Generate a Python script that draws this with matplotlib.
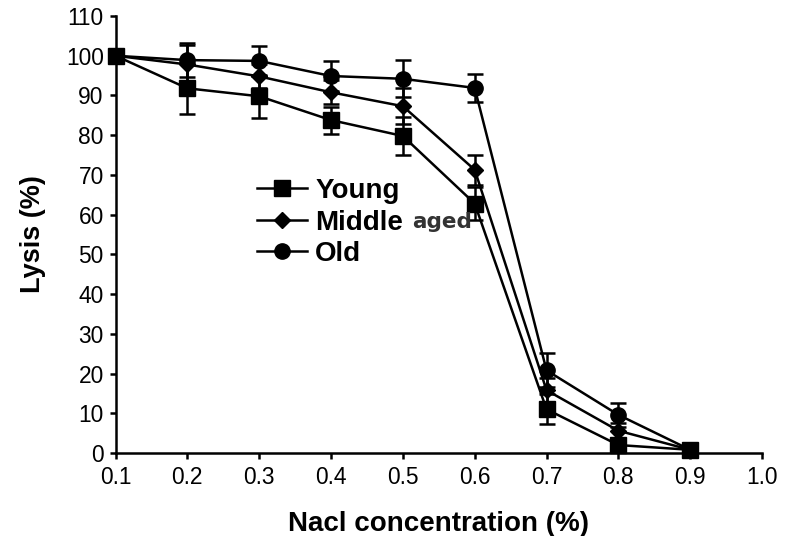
"""
Lysis (%) against NaCl concentration for three age groups, with error bars.
"""

import matplotlib
matplotlib.use('agg')
from matplotlib import pyplot as plt

plt.rcParams['font.family'] = ['Liberation Sans', 'DejaVu Sans']

# data
nacl = [0.1, 0.2, 0.3, 0.4, 0.5, 0.6, 0.7, 0.8, 0.9]

young = [100, 91.8, 89.8, 83.8, 79.8, 62.8, 11.0, 2.0, 0.8]
young_err = [0, 6.5, 5.4, 3.4, 4.7, 4.2, 3.8, 1.5, 0]

middle = [100, 97.8, 94.8, 90.8, 87.3, 71.3, 15.8, 5.6, 0.8]
middle_err = [0, 4.8, 3.0, 3.0, 4.5, 3.8, 3.0, 2.0, 0]

old = [100, 98.9, 98.7, 94.9, 94.2, 91.9, 20.8, 9.6, 0.8]
old_err = [0, 4.2, 3.7, 3.8, 4.7, 3.6, 4.3, 3.0, 0]

labels = ['Young', 'Middle', 'Old']

fig = plt.figure(figsize=(7.89, 5.36), dpi=100)
ax = fig.add_axes([0.1464, 0.1549, 0.8194, 0.8152])

kw = dict(color='black', lw=1.8, elinewidth=1.8, capsize=6, capthick=1.8,
          clip_on=False, zorder=3)
c1 = ax.errorbar(nacl, young, yerr=young_err, fmt='-s', ms=11, **kw)
c2 = ax.errorbar(nacl, middle, yerr=middle_err, fmt='-D', ms=8, **kw)
c3 = ax.errorbar(nacl, old, yerr=old_err, fmt='-o', ms=11, **kw)

ax.set_xlim(0.1, 1.0)
ax.set_ylim(0, 110)
ax.set_xticks([0.1, 0.2, 0.3, 0.4, 0.5, 0.6, 0.7, 0.8, 0.9, 1.0])
ax.set_xticklabels(['0.1', '0.2', '0.3', '0.4', '0.5', '0.6', '0.7', '0.8', '0.9', '1.0'])
ax.set_yticks(range(0, 111, 10))

for side in ['top', 'right']:
    ax.spines[side].set_visible(False)
for side in ['left', 'bottom']:
    ax.spines[side].set_linewidth(1.8)
ax.tick_params(axis='both', direction='out', length=4.5, width=1.8,
               labelsize=16.4)
ax.tick_params(axis='x', pad=5)
ax.tick_params(axis='y', pad=4)

ax.set_xlabel('Nacl concentration (%)', fontsize=20, fontweight='bold', labelpad=16)
ax.set_ylabel('Lysis (%)', fontsize=19.5, fontweight='bold', labelpad=14)

handles = [c1.lines[0], c2.lines[0], c3.lines[0]]
ax.legend(handles, labels, loc='upper left',
          bbox_to_anchor=(257 / 789, 1 - 178 / 536), bbox_transform=fig.transFigure,
          frameon=False, prop={'weight': 'bold', 'size': 20},
          handlelength=1.8, handletextpad=0.3, labelspacing=0.2,
          borderpad=0, borderaxespad=0)

# the stray "aged" word next to "Middle"
fig.text(412 / 789, 1 - 228 / 536, 'aged', fontsize=15.5, fontweight='bold',
         family='DejaVu Sans', color='#333333', ha='left', va='baseline')

plt.savefig('out.png', dpi=100)
